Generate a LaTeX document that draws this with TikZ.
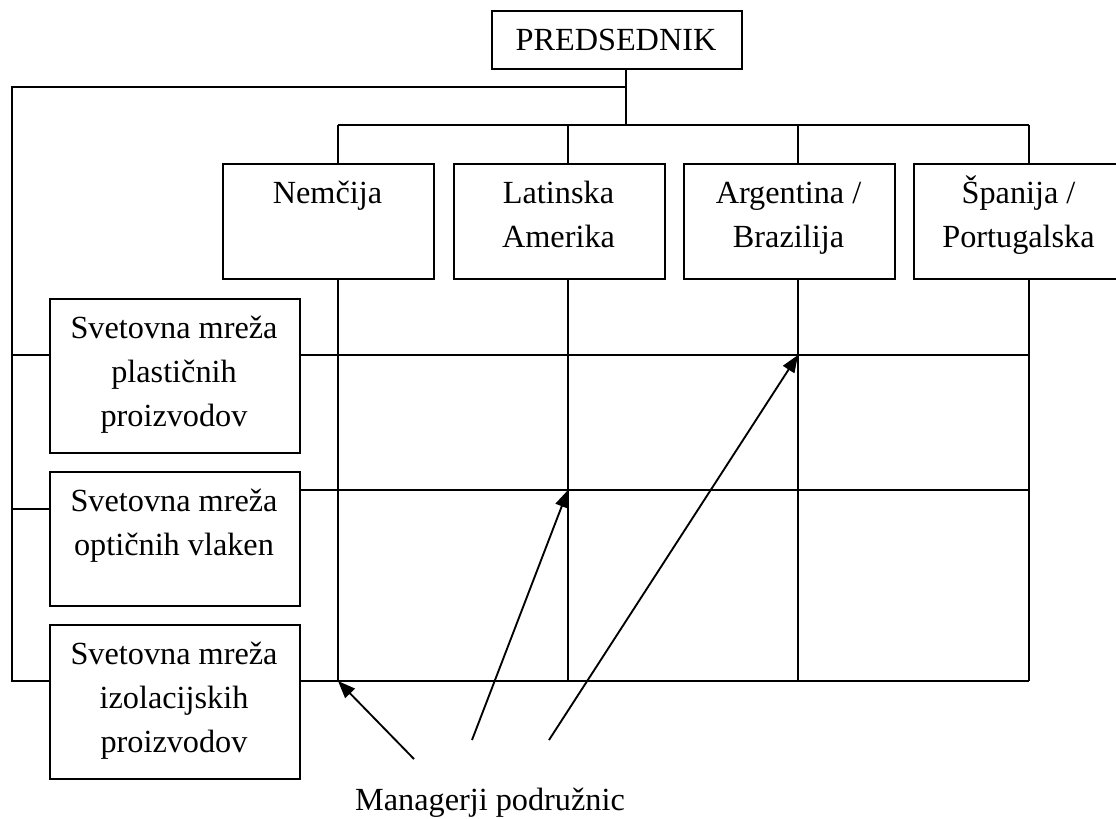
\documentclass[tikz,border=0pt]{standalone}
\usepackage{fontspec}
\setmainfont{Liberation Serif}
\usetikzlibrary{arrows.meta}
\begin{document}
\begin{tikzpicture}[x=0.75pt,y=-0.75pt,
  line/.style={line width=1.4pt},
  orgbox/.style={draw, line width=1.4pt, fill=white, inner sep=0pt, anchor=north west},
  cbox/.style={orgbox, minimum width=211*0.75pt, minimum height=115*0.75pt},
  wbox/.style={orgbox, minimum width=250*0.75pt},
  txt/.style={font=\fontsize{24.2}{33}\selectfont, anchor=base, inner sep=0pt},
  ptr/.style={line width=1.4pt, -{Triangle[length=13pt,width=10pt]}}]
\useasboundingbox (0,0) rectangle (1116,818);
\clip (0,0) rectangle (1116,818);

% president
\node[orgbox, minimum width=250*0.75pt, minimum height=58*0.75pt] (pres) at (491,10) {};
\node[txt] (tpres) at (616,50) {PREDSEDNIK};

% country divisions
\node[cbox] (nem) at (222,163) {};
\node[cbox] (lat) at (453,163) {};
\node[cbox] (arg) at (683,163) {};
\node[cbox] (spa) at (913,163) {};
\node[txt] (tnem)  at (327.5,203) {Nemčija};
\node[txt] (tlat1) at (558.5,203) {Latinska};
\node[txt] (tlat2) at (558.5,247.5) {Amerika};
\node[txt] (targ1) at (788.5,203) {Argentina /};
\node[txt] (targ2) at (788.5,247.5) {Brazilija};
\node[txt] (tspa1) at (1018.5,203) {Španija /};
\node[txt] (tspa2) at (1018.5,247.5) {Portugalska};

% worldwide product networks
\node[wbox, minimum height=154*0.75pt] (w1) at (49,298) {};
\node[wbox, minimum height=134*0.75pt] (w2) at (49,471) {};
\node[wbox, minimum height=154*0.75pt] (w3) at (49,624) {};
\node[txt] (tw11) at (174,338) {Svetovna mreža};
\node[txt] (tw12) at (174,382) {plastičnih};
\node[txt] (tw13) at (174,426.5) {proizvodov};
\node[txt] (tw21) at (174,511) {Svetovna mreža};
\node[txt] (tw22) at (174,555) {optičnih vlaken};
\node[txt] (tw31) at (174,664) {Svetovna mreža};
\node[txt] (tw32) at (174,708) {izolacijskih};
\node[txt] (tw33) at (174,752) {proizvodov};

\node[txt] (mgr) at (490,810) {Managerji podružnic};

% junction points
\coordinate (jtop) at (626,87);
\coordinate (jbus) at (626,125);
\coordinate (lc) at (12,87);
\coordinate (lb) at (12,681);
\coordinate (s1) at (12,355);
\coordinate (s2) at (12,509);
\coordinate (c1) at (338,125);
\coordinate (c2) at (568,125);
\coordinate (c3) at (798,125);
\coordinate (c4) at (1029,125);
\coordinate (g1) at (1029,355);
\coordinate (g2) at (1029,490);
\coordinate (g3) at (1029,681);

% reporting lines
\draw[line] (pres.south -| jbus) -- (jbus);
\draw[line] (jtop) -- (lc) -- (lb) -- (lb -| w3.west);
\draw[line] (s1) -- (s1 -| w1.west);
\draw[line] (s2) -- (s2 -| w2.west);
\draw[line] (c1) -- (c4);
\draw[line] (c1) -- (c1 |- nem.north);
\draw[line] (c2) -- (c2 |- lat.north);
\draw[line] (c3) -- (c3 |- arg.north);
\draw[line] (c4) -- (c4 |- spa.north);

% matrix grid
\draw[line] (w1.east |- g1) -- (g1);
\draw[line] (w2.east |- g2) -- (g2);
\draw[line] (w3.east |- g3) -- (g3);
\draw[line] (c1 |- nem.south) -- (c1 |- g3);
\draw[line] (c2 |- lat.south) -- (c2 |- g3);
\draw[line] (c3 |- arg.south) -- (c3 |- g3);
\draw[line] (c4 |- spa.south) -- (g3);

% branch managers
\coordinate (m1) at (414,759);
\coordinate (m2) at (472,740);
\coordinate (m3) at (549,740);
\draw[ptr] (m1) -- (c1 |- g3);
\draw[ptr] (m2) -- (c2 |- g2);
\draw[ptr] (m3) -- (c3 |- g1);
\end{tikzpicture}
\end{document}
